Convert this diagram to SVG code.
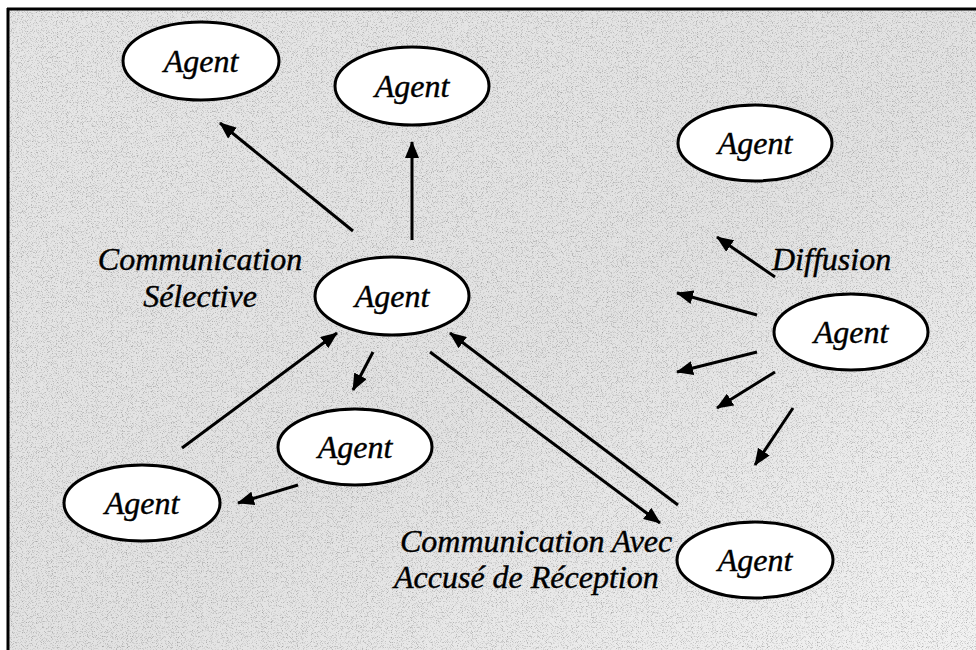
<svg xmlns="http://www.w3.org/2000/svg" width="976" height="650" viewBox="0 0 976 650">
  <style>
    .node ellipse { fill: #ffffff; stroke: #000000; stroke-width: 3; }
    .lbl { font-family: "Liberation Serif", "Times New Roman", serif; font-style: italic; font-size: 32px; fill: #000000; stroke: #000000; stroke-width: 0.4; }
    .node text { text-anchor: middle; }
    .conn line { stroke: #000000; stroke-width: 3; marker-end: url(#ah); }
  </style>
  <defs>
    <marker id="ah" markerUnits="userSpaceOnUse" markerWidth="18" markerHeight="14" refX="16" refY="7" orient="auto">
      <path d="M0,0 L17,7 L0,14 Z" fill="#000000"/>
    </marker>
    <linearGradient id="bg" x1="0" y1="0" x2="1" y2="1">
      <stop offset="0" stop-color="#e6e6e6"/>
      <stop offset="0.55" stop-color="#e2e2e2"/>
      <stop offset="1" stop-color="#f2f2f2"/>
    </linearGradient>
    <filter id="speckle" x="0" y="0" width="100%" height="100%">
      <feTurbulence type="fractalNoise" baseFrequency="1.2" numOctaves="1" seed="3" result="n"/>
      <feColorMatrix in="n" type="matrix" values="0 0 0 0 0  0 0 0 0 0  0 0 0 0 0  0 0 0 -3 1.45" result="a"/>
      <feComposite in="a" in2="SourceGraphic" operator="in"/>
    </filter>
  </defs>

  <rect x="0" y="0" width="976" height="650" fill="#ffffff"/>
  <rect x="8" y="9" width="968" height="641" fill="url(#bg)"/>
  <rect x="8" y="9" width="968" height="641" fill="#000000" opacity="0.3" filter="url(#speckle)"/>

  <g id="frame" fill="none" stroke="#000000" stroke-width="3">
    <line x1="7" y1="9" x2="976" y2="9"/>
    <line x1="8" y1="8" x2="8" y2="650"/>
  </g>

  <g id="connectors" class="conn">
    <line x1="353" y1="231" x2="220" y2="123"/>
    <line x1="412" y1="240" x2="412" y2="142"/>
    <line x1="182" y1="448" x2="337" y2="333"/>
    <line x1="373" y1="352" x2="353" y2="390"/>
    <line x1="298" y1="485" x2="238" y2="503"/>
    <line x1="430" y1="352" x2="660" y2="523"/>
    <line x1="678" y1="505" x2="450" y2="333"/>
    <line x1="775" y1="277" x2="717" y2="237"/>
    <line x1="757" y1="315" x2="677" y2="293"/>
    <line x1="757" y1="352" x2="677" y2="372"/>
    <line x1="775" y1="372" x2="717" y2="408"/>
    <line x1="793" y1="408" x2="755" y2="465"/>
  </g>

  <g id="agent-top-left" class="node">
    <ellipse cx="201" cy="61" rx="78" ry="39"/>
    <text class="lbl" x="201" y="72">Agent</text>
  </g>
  <g id="agent-top-middle" class="node">
    <ellipse cx="412" cy="86" rx="77" ry="39"/>
    <text class="lbl" x="412" y="97">Agent</text>
  </g>
  <g id="agent-top-right" class="node">
    <ellipse cx="755" cy="143" rx="77" ry="38"/>
    <text class="lbl" x="755" y="154">Agent</text>
  </g>
  <g id="agent-center" class="node">
    <ellipse cx="392" cy="296" rx="77" ry="39"/>
    <text class="lbl" x="392" y="307">Agent</text>
  </g>
  <g id="agent-right" class="node">
    <ellipse cx="851" cy="332" rx="77" ry="38"/>
    <text class="lbl" x="851" y="343">Agent</text>
  </g>
  <g id="agent-bottom-middle" class="node">
    <ellipse cx="355" cy="447" rx="77" ry="38"/>
    <text class="lbl" x="355" y="458">Agent</text>
  </g>
  <g id="agent-bottom-left" class="node">
    <ellipse cx="142" cy="503" rx="78" ry="38"/>
    <text class="lbl" x="142" y="514">Agent</text>
  </g>
  <g id="agent-bottom-right" class="node">
    <ellipse cx="755" cy="560" rx="78" ry="38"/>
    <text class="lbl" x="755" y="571">Agent</text>
  </g>

  <g id="labels">
    <text class="lbl" x="200" y="270" text-anchor="middle">Communication</text>
    <text class="lbl" x="200" y="307" text-anchor="middle">Sélective</text>
    <text class="lbl" x="772" y="270">Diffusion</text>
    <text class="lbl" x="400" y="552">Communication Avec</text>
    <text class="lbl" x="394" y="588">Accusé de Réception</text>
  </g>
</svg>
